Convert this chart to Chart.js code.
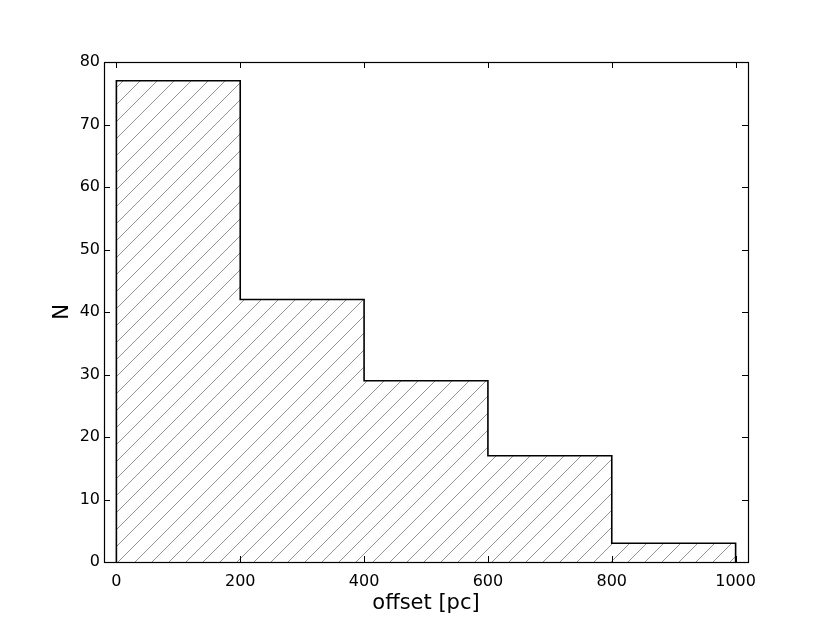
<!DOCTYPE html>
<html>
<head>
<meta charset="utf-8">
<script src="https://cdn.jsdelivr.net/npm/chart.js@4.4.0/dist/chart.umd.min.js"></script>
<style>
  html, body { margin: 0; padding: 0; background: #ffffff; }
  #wrap { width: 830px; height: 626px; }
</style>
</head>
<body>
<div id="wrap"><canvas id="c" width="830" height="626"></canvas></div>
<script>
// ---- data ----
const binEdges = [0, 200, 400, 600, 800, 1000];
const counts = [77, 42, 29, 17, 3];
const xTicks = [0, 200, 400, 600, 800, 1000];
const yTicks = [0, 10, 20, 30, 40, 50, 60, 70, 80];
const xLabel = 'offset [pc]';
const yLabel = 'N';

// build step outline from the histogram arrays
const stepPoints = [{x: binEdges[0], y: 0}];
counts.forEach((c, i) => {
  stepPoints.push({x: binEdges[i], y: c});
  stepPoints.push({x: binEdges[i + 1], y: c});
});
stepPoints.push({x: binEdges[binEdges.length - 1], y: 0});

// hatch pattern
function makeHatch() {
  const s = 17;
  const pc = document.createElement('canvas');
  pc.width = s; pc.height = s;
  const g = pc.getContext('2d');
  g.fillStyle = '#ffffff';
  g.fillRect(0, 0, s, s);
  g.strokeStyle = 'rgba(0,0,0,0.42)';
  g.lineWidth = 1;
  g.beginPath();
  g.moveTo(-2, s + 2); g.lineTo(s + 2, -2);
  g.moveTo(-2, 2); g.lineTo(2, -2);
  g.moveTo(s - 2, s + 2); g.lineTo(s + 2, s - 2);
  g.stroke();
  return g.createPattern(pc, 'repeat');
}

const FONT = "'DejaVu Sans', sans-serif";

const framePlugin = {
  id: 'frame',
  afterDatasetsDraw(chart) {
    const ctx = chart.ctx;
    const a = chart.chartArea;
    const xs = chart.scales.x, ys = chart.scales.y;
    const L = 6;
    ctx.save();
    ctx.strokeStyle = '#000';
    ctx.lineWidth = 1;
    ctx.beginPath();
    xTicks.forEach(v => {
      const px = Math.round(xs.getPixelForValue(v)) + 0.5;
      ctx.moveTo(px, a.bottom); ctx.lineTo(px, a.bottom - L);
      ctx.moveTo(px, a.top); ctx.lineTo(px, a.top + L);
    });
    yTicks.forEach(v => {
      const py = Math.round(ys.getPixelForValue(v)) + 0.5;
      ctx.moveTo(a.left, py); ctx.lineTo(a.left + L, py);
      ctx.moveTo(a.right, py); ctx.lineTo(a.right - L, py);
    });
    ctx.stroke();
    ctx.lineWidth = 1.2;
    ctx.strokeRect(Math.round(a.left) + 0.5, Math.round(a.top) + 0.5,
                   Math.round(a.right - a.left), Math.round(a.bottom - a.top));
    ctx.restore();
  }
};

new Chart(document.getElementById('c'), {
  type: 'line',
  data: {
    datasets: [{
      data: stepPoints,
      borderColor: '#000000',
      borderWidth: 1.6,
      backgroundColor: makeHatch(),
      fill: 'origin',
      pointRadius: 0,
      tension: 0,
      clip: false
    }]
  },
  options: {
    responsive: false,
    devicePixelRatio: 1,
    animation: false,
    layout: { padding: { top: 62, right: 82, left: 0, bottom: 0 } },
    plugins: { legend: { display: false }, tooltip: { enabled: false } },
    scales: {
      x: {
        type: 'linear',
        min: -20, max: 1020,
        afterBuildTicks: s => { s.ticks = xTicks.map(v => ({value: v})); },
        afterFit: s => { s.height = 64; },
        grid: { display: false, drawTicks: false },
        border: { display: false },
        ticks: { color: '#000', padding: 10, font: { family: FONT, size: 16 }, maxRotation: 0,
                 callback: v => String(v) },
        title: { display: true, text: xLabel, color: '#000',
                 font: { family: FONT, size: 21 }, padding: { top: 0, bottom: 10 } }
      },
      y: {
        type: 'linear',
        min: 0, max: 80,
        afterBuildTicks: s => { s.ticks = yTicks.map(v => ({value: v})); },
        afterFit: s => { s.width = 104; },
        grid: { display: false, drawTicks: false },
        border: { display: false },
        ticks: { color: '#000', padding: 4, font: { family: FONT, size: 16 },
                 callback: v => String(v) },
        title: { display: true, text: yLabel, color: '#000',
                 font: { family: FONT, size: 21 }, padding: { top: 50, bottom: 0 } }
      }
    }
  },
  plugins: [framePlugin]
});
</script>
</body>
</html>
